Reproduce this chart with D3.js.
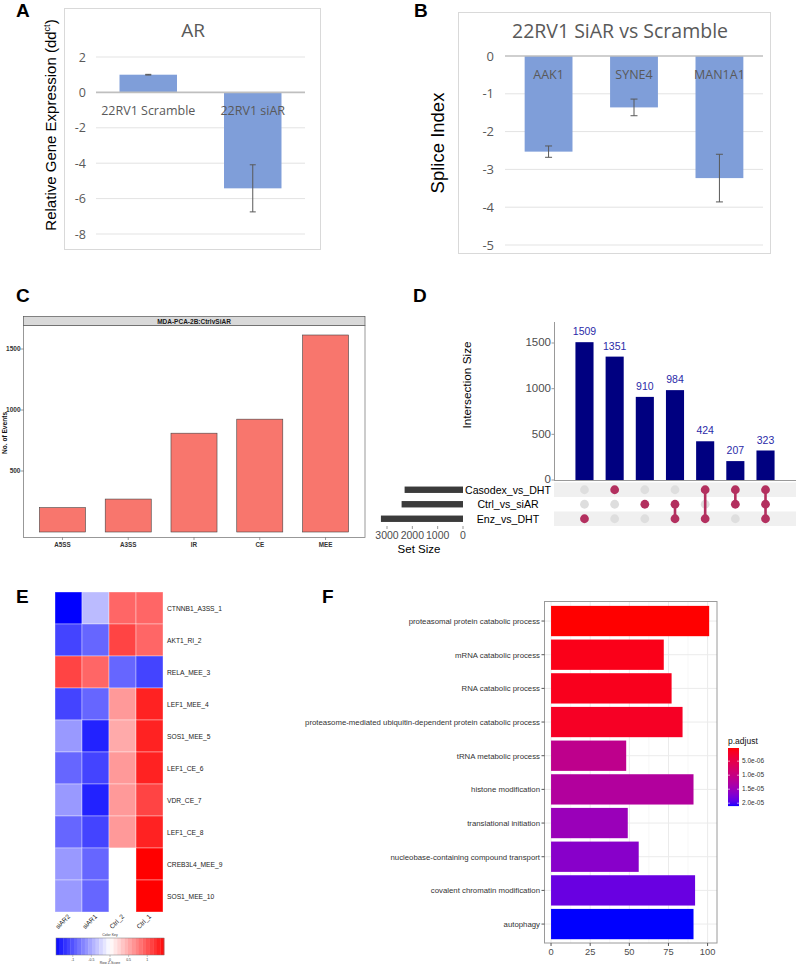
<!DOCTYPE html>
<html><head><meta charset="utf-8">
<script src="https://cdn.jsdelivr.net/npm/d3@7"></script>
<style>
body{margin:0;background:#fff}
svg{display:block}
text{font-family:"Liberation Sans",Arial,sans-serif}
.xl{font-family:"Open Sans","Liberation Sans",sans-serif}
</style>
</head><body>
<svg id="c" width="796" height="964"></svg>
<script>
// ---------- DATA ----------
const arCategories = ["22RV1 Scramble", "22RV1 siAR"];
const arValues = [1.0, -5.42];
const arErrors = [0.02, 1.33];
const arTicks = [2, 0, -2, -4, -6, -8];

const spliceGenes = ["AAK1", "SYNE4", "MAN1A1"];
const spliceValues = [-2.53, -1.36, -3.23];
const spliceErrors = [0.15, 0.22, 0.63];
const spliceTicks = [0, -1, -2, -3, -4, -5];

const eventTypes = ["A5SS", "A3SS", "IR", "CE", "MEE"];
const eventCounts = [200, 270, 810, 925, 1615];
const eventTicks = [500, 1000, 1500];

const setNames = ["Casodex_vs_DHT", "Ctrl_vs_siAR", "Enz_vs_DHT"];
const setSizes = [2305, 2424, 3240];
const setSizeTicks = [3000, 2000, 1000, 0];
const intersectionSizes = [1509, 1351, 910, 984, 424, 207, 323];
const intersectionMembers = [[2], [0], [1], [1, 2], [0, 2], [0, 1], [0, 1, 2]];
const intersectionTicks = [0, 500, 1000, 1500];

const hmRows = ["CTNNB1_A3SS_1", "AKT1_RI_2", "RELA_MEE_3", "LEF1_MEE_4", "SOS1_MEE_5",
  "LEF1_CE_6", "VDR_CE_7", "LEF1_CE_8", "CREB3L4_MEE_9", "SOS1_MEE_10"];
const hmCols = ["siAR2", "siAR1", "Ctrl_2", "Ctrl_1"];
const hmZ = [
  [-1.5, -0.45, 0.9, 0.9],
  [-1.06, -0.87, 1.1, 0.9],
  [1.1, 0.9, -0.87, -1.06],
  [-1.06, -0.87, 0.6, 1.3],
  [-0.6, -1.3, 0.45, 1.3],
  [-0.87, -1.06, 0.6, 1.3],
  [-0.6, -1.3, 0.6, 1.1],
  [-0.87, -1.1, 0.6, 1.25],
  [-0.6, -0.87, 0.0, 1.5],
  [-0.6, -0.87, 0.0, 1.5]
];
const zKeyTicks = [-1, -0.5, 0, 0.5, 1];

const goTerms = ["proteasomal protein catabolic process", "mRNA catabolic process", "RNA catabolic process",
  "proteasome-mediated ubiquitin-dependent protein catabolic process", "tRNA metabolic process",
  "histone modification", "translational initiation", "nucleobase-containing compound transport",
  "covalent chromatin modification", "autophagy"];
const goCounts = [101, 72, 77, 84, 48, 91, 49, 56, 92, 91];
const goPadj = [3e-7, 1.3e-6, 1.5e-6, 2.0e-6, 1.1e-5, 1.25e-5, 1.5e-5, 1.65e-5, 1.85e-5, 2.1e-5];
const goTicks = [0, 25, 50, 75, 100];
const padjTicks = [5e-6, 1e-5, 1.5e-5, 2e-5];
const padjTickLabels = ["5.0e-06", "1.0e-05", "1.5e-05", "2.0e-05"];

// ---------- DRAW ----------
const svg = d3.select("#c");
svg.append("rect").attr("width", 796).attr("height", 964).attr("fill", "#fff");

function panelLabel(t, x, y) {
  svg.append("text").attr("x", x).attr("y", y).text(t)
    .attr("font-size", 19).attr("font-weight", "bold").attr("fill", "#000");
}
panelLabel("A", 16, 17); panelLabel("B", 414, 17); panelLabel("C", 16, 302);
panelLabel("D", 413, 302); panelLabel("E", 16, 603); panelLabel("F", 322, 603);

const excelBlue = "#7f9ed9";

// ----- Panel A -----
(function () {
  const g = svg.append("g");
  g.append("rect").attr("x", 64.5).attr("y", 8.5).attr("width", 256).attr("height", 241)
    .attr("fill", "#fff").attr("stroke", "#d9d9d9");
  const y = d3.scaleLinear().domain([-8, 2]).range([234, 57]);
  const x = d3.scaleBand().domain(arCategories).range([96, 305]).paddingInner(0.45).paddingOuter(0.225);
  arTicks.filter(t => t !== 0).forEach(t => {
    g.append("line").attr("x1", 96).attr("x2", 305).attr("y1", y(t)).attr("y2", y(t))
      .attr("stroke", "#e3e3e3").attr("stroke-width", 1);
  });
  arTicks.forEach(t => {
    g.append("text").attr("class", "xl").attr("x", 86).attr("y", y(t) + 4.5)
      .attr("text-anchor", "end").attr("font-size", 12.5).attr("fill", "#595959").text(t);
  });
  g.selectAll(".bar").data(arValues).enter().append("rect")
    .attr("x", (d, i) => x(arCategories[i])).attr("width", x.bandwidth())
    .attr("y", d => y(Math.max(0, d))).attr("height", d => Math.abs(y(d) - y(0)))
    .attr("fill", excelBlue);
  g.append("line").attr("x1", 96).attr("x2", 305).attr("y1", y(0)).attr("y2", y(0))
    .attr("stroke", "#bfbfbf").attr("stroke-width", 1.6);
  arValues.forEach((v, i) => {
    const cx = x(arCategories[i]) + x.bandwidth() / 2;
    const e = arErrors[i];
    g.append("line").attr("x1", cx).attr("x2", cx).attr("y1", y(v + e)).attr("y2", y(v - e)).attr("stroke", "#595959");
    [v + e, v - e].forEach(vv => g.append("line").attr("x1", cx - 3).attr("x2", cx + 3)
      .attr("y1", y(vv)).attr("y2", y(vv)).attr("stroke", "#595959"));
    g.append("text").attr("class", "xl").attr("x", cx).attr("y", 115).attr("text-anchor", "middle")
      .attr("font-size", 12.5).attr("fill", "#595959").text(arCategories[i]);
  });
  g.append("text").attr("class", "xl").attr("x", 193).attr("y", 37).attr("text-anchor", "middle")
    .attr("font-size", 19).attr("fill", "#595959").text("AR");
  const yl = g.append("text").attr("transform", "translate(56,125) rotate(-90)")
    .attr("text-anchor", "middle").attr("font-size", 15).attr("fill", "#000");
  yl.append("tspan").text("Relative Gene Expression (dd");
  yl.append("tspan").attr("dy", -6).attr("font-size", 9).text("ct");
  yl.append("tspan").attr("dy", 6).text(")");
})();

// ----- Panel B -----
(function () {
  const g = svg.append("g");
  g.append("rect").attr("x", 458.5).attr("y", 12.5).attr("width", 312).attr("height", 241)
    .attr("fill", "#fff").attr("stroke", "#d9d9d9");
  const y = d3.scaleLinear().domain([-5, 0]).range([245, 56]);
  const x = d3.scaleBand().domain(spliceGenes).range([505, 763]).paddingInner(0.44).paddingOuter(0.23);
  spliceTicks.filter(t => t !== 0).forEach(t => {
    g.append("line").attr("x1", 505).attr("x2", 763).attr("y1", y(t)).attr("y2", y(t))
      .attr("stroke", "#e3e3e3");
  });
  spliceTicks.forEach(t => {
    g.append("text").attr("class", "xl").attr("x", 494).attr("y", y(t) + 4.5)
      .attr("text-anchor", "end").attr("font-size", 13).attr("fill", "#595959").text(t);
  });
  g.selectAll(".bar").data(spliceValues).enter().append("rect")
    .attr("x", (d, i) => x(spliceGenes[i])).attr("width", x.bandwidth())
    .attr("y", y(0)).attr("height", d => y(d) - y(0)).attr("fill", excelBlue);
  g.append("line").attr("x1", 505).attr("x2", 763).attr("y1", y(0)).attr("y2", y(0))
    .attr("stroke", "#bfbfbf").attr("stroke-width", 1.6);
  spliceValues.forEach((v, i) => {
    const cx = x(spliceGenes[i]) + x.bandwidth() / 2;
    const e = spliceErrors[i];
    g.append("line").attr("x1", cx).attr("x2", cx).attr("y1", y(v + e)).attr("y2", y(v - e)).attr("stroke", "#595959");
    [v + e, v - e].forEach(vv => g.append("line").attr("x1", cx - 3.5).attr("x2", cx + 3.5)
      .attr("y1", y(vv)).attr("y2", y(vv)).attr("stroke", "#595959"));
    g.append("text").attr("class", "xl").attr("x", cx).attr("y", 79).attr("text-anchor", "middle")
      .attr("font-size", 12.5).attr("fill", "#595959").text(spliceGenes[i]);
  });
  g.append("text").attr("class", "xl").attr("x", 620).attr("y", 38).attr("text-anchor", "middle")
    .attr("font-size", 19.5).attr("fill", "#595959").text("22RV1 SiAR vs Scramble");
  g.append("text").attr("transform", "translate(444,143) rotate(-90)").attr("text-anchor", "middle")
    .attr("font-size", 18.5).attr("fill", "#000").text("Splice Index");
})();

// ----- Panel C -----
(function () {
  const g = svg.append("g");
  const y = d3.scaleLinear().domain([0, 1697]).range([532, 325]);
  const x = d3.scaleBand().domain(eventTypes).range([23, 365]).paddingInner(0.3).paddingOuter(0.25);
  g.append("rect").attr("x", 23.5).attr("y", 325.5).attr("width", 341.5).attr("height", 212)
    .attr("fill", "#fff").attr("stroke", "#7f7f7f").attr("stroke-width", 0.8);
  g.append("rect").attr("x", 23.5).attr("y", 316.5).attr("width", 341.5).attr("height", 9)
    .attr("fill", "#d9d9d9").attr("stroke", "#555").attr("stroke-width", 0.7);
  g.append("text").attr("x", 194).attr("y", 323.6).attr("text-anchor", "middle")
    .attr("font-size", 6.5).attr("font-weight", "bold").attr("fill", "#1a1a1a").text("MDA-PCA-2B:CtrlvSiAR");
  g.selectAll(".bar").data(eventCounts).enter().append("rect")
    .attr("x", (d, i) => x(eventTypes[i])).attr("width", x.bandwidth())
    .attr("y", d => y(d)).attr("height", d => y(0) - y(d))
    .attr("fill", "#f8766d").attr("stroke", "#444").attr("stroke-width", 0.6);
  eventTicks.forEach(t => {
    g.append("line").attr("x1", 20.5).attr("x2", 23.5).attr("y1", y(t)).attr("y2", y(t)).attr("stroke", "#555").attr("stroke-width", 0.6);
    g.append("text").attr("x", 20.5).attr("y", y(t) + 2.4).attr("text-anchor", "end")
      .attr("font-size", 6.5).attr("font-weight", "bold").attr("fill", "#333").text(t);
  });
  eventTypes.forEach(e => {
    const cx = x(e) + x.bandwidth() / 2;
    g.append("line").attr("x1", cx).attr("x2", cx).attr("y1", 537.5).attr("y2", 540).attr("stroke", "#555").attr("stroke-width", 0.6);
    g.append("text").attr("x", cx).attr("y", 547).attr("text-anchor", "middle")
      .attr("font-size", 6.3).attr("font-weight", "bold").attr("fill", "#333").text(e);
  });
  g.append("text").attr("transform", "translate(6.5,433) rotate(-90)").attr("text-anchor", "middle")
    .attr("font-size", 6.6).attr("font-weight", "bold").attr("fill", "#111").text("No. of Events");
})();

// ----- Panel D -----
(function () {
  const g = svg.append("g");
  const navy = "#000080", dot = "#b3305f";
  const y = d3.scaleLinear().domain([0, 1730]).range([480, 322]);
  const x = d3.scaleBand().domain(d3.range(intersectionSizes.length)).range([569.4, 780.6])
    .paddingInner(0.4).paddingOuter(0.2);
  const row = d3.scaleBand().domain(setNames).range([482.5, 526]);
  setNames.forEach((s, i) => {
    if (i % 2 === 0) g.append("rect").attr("x", 554).attr("y", row(s)).attr("width", 242)
      .attr("height", row.bandwidth()).attr("fill", "#f0f0f0");
  });
  g.append("line").attr("x1", 554.5).attr("x2", 554.5).attr("y1", 322).attr("y2", 480).attr("stroke", "#999");
  g.append("line").attr("x1", 554).attr("x2", 796).attr("y1", 480.5).attr("y2", 480.5).attr("stroke", "#999");
  intersectionTicks.forEach(t => {
    g.append("line").attr("x1", 551.5).attr("x2", 554.5).attr("y1", y(t)).attr("y2", y(t)).attr("stroke", "#999");
    g.append("text").attr("x", 551).attr("y", y(t) + 3.4).attr("text-anchor", "end")
      .attr("font-size", 11.5).attr("fill", "#4d4d4d").text(t);
  });
  g.append("text").attr("transform", "translate(471,385) rotate(-90)").attr("text-anchor", "middle")
    .attr("font-size", 11.8).attr("fill", "#000").text("Intersection Size");
  intersectionSizes.forEach((v, i) => {
    g.append("rect").attr("x", x(i)).attr("width", x.bandwidth()).attr("y", y(v)).attr("height", y(0) - y(v))
      .attr("fill", navy);
    g.append("text").attr("x", x(i) + x.bandwidth() / 2).attr("y", y(v) - 7).attr("text-anchor", "middle")
      .attr("font-size", 10.5).attr("fill", "#2a2aa8").text(v);
  });
  intersectionMembers.forEach((m, i) => {
    const cx = x(i) + x.bandwidth() / 2;
    setNames.forEach((s, j) => {
      g.append("circle").attr("cx", cx).attr("cy", row(s) + row.bandwidth() / 2).attr("r", 4.4)
        .attr("fill", m.includes(j) ? dot : "#dedede");
    });
    if (m.length > 1) {
      const lo = d3.min(m), hi = d3.max(m);
      g.append("line").attr("x1", cx).attr("x2", cx)
        .attr("y1", row(setNames[lo]) + row.bandwidth() / 2).attr("y2", row(setNames[hi]) + row.bandwidth() / 2)
        .attr("stroke", dot).attr("stroke-width", 2.6);
    }
  });
  setNames.forEach(s => {
    g.append("text").attr("x", 508).attr("y", row(s) + row.bandwidth() / 2 + 3.8).attr("text-anchor", "middle")
      .attr("font-size", 10.6).attr("fill", "#000").text(s);
  });
  const sx = d3.scaleLinear().domain([0, 3000]).range([463, 387]);
  setSizes.forEach((v, j) => {
    g.append("rect").attr("x", sx(v)).attr("width", sx(0) - sx(v))
      .attr("y", row(setNames[j]) + row.bandwidth() / 2 - 3.2).attr("height", 6.4).attr("fill", "#3b3b3b");
  });
  setSizeTicks.forEach(t => {
    g.append("line").attr("x1", sx(t)).attr("x2", sx(t)).attr("y1", 526).attr("y2", 529).attr("stroke", "#999");
    g.append("text").attr("x", sx(t)).attr("y", 539).attr("text-anchor", "middle")
      .attr("font-size", 10.5).attr("fill", "#4d4d4d").text(t);
  });
  g.append("text").attr("x", 419).attr("y", 553).attr("text-anchor", "middle")
    .attr("font-size", 11.5).attr("fill", "#000").text("Set Size");
})();

// ----- Panel E -----
(function () {
  const g = svg.append("g");
  const x = d3.scaleBand().domain(hmCols).range([55, 163]);
  const y = d3.scaleBand().domain(hmRows).range([592, 912]);
  const nb = 31;
  const q = v => {
    const k = Math.round((v + 1.5) / 3 * (nb - 1));
    return -1.5 + k * 3 / (nb - 1);
  };
  const col = d3.scaleLinear().domain([-1.5, 0, 1.5]).range(["#0000ff", "#ffffff", "#ff0000"]).clamp(true);
  hmZ.forEach((r, i) => r.forEach((v, j) => {
    g.append("rect").attr("x", x(hmCols[j])).attr("y", y(hmRows[i]))
      .attr("width", x.bandwidth()).attr("height", y.bandwidth())
      .attr("fill", col(q(v))).attr("stroke", "#ffffff").attr("stroke-opacity", 0.45).attr("stroke-width", 0.8);
  }));
  hmRows.forEach(r => {
    g.append("text").attr("x", 167).attr("y", y(r) + y.bandwidth() / 2 + 2.5)
      .attr("font-size", 6.7).attr("fill", "#222").text(r);
  });
  hmCols.forEach(c => {
    const cx = x(c) + x.bandwidth() / 2 + 2;
    g.append("text").attr("transform", `translate(${cx},917) rotate(-45)`).attr("text-anchor", "end")
      .attr("font-size", 6.5).attr("fill", "#222").text(c);
  });
  const kx = d3.scaleLinear().domain([-1.45, 1.45]).range([56, 164]);
  const nk = 30;
  const steps = d3.range(nk).map(k => -1.45 + k * 2.9 / nk);
  steps.forEach(s => {
    g.append("rect").attr("x", kx(s)).attr("y", 938).attr("width", 2.9 / nk * 37.3 + 0.3).attr("height", 17)
      .attr("fill", col(s + 1.45 / nk));
  });
  g.append("rect").attr("x", 56).attr("y", 938).attr("width", 108).attr("height", 17)
    .attr("fill", "none").attr("stroke", "#777").attr("stroke-width", 0.5);
  g.append("text").attr("x", 110).attr("y", 936).attr("text-anchor", "middle").attr("font-size", 3.5).attr("fill", "#333").text("Color Key");
  zKeyTicks.forEach(t => {
    g.append("line").attr("x1", kx(t)).attr("x2", kx(t)).attr("y1", 955).attr("y2", 957).attr("stroke", "#777").attr("stroke-width", 0.4);
    g.append("text").attr("x", kx(t)).attr("y", 960.5).attr("text-anchor", "middle").attr("font-size", 3.5).attr("fill", "#333").text(t);
  });
  g.append("text").attr("x", 110).attr("y", 964).attr("text-anchor", "middle").attr("font-size", 3.5).attr("fill", "#333").text("Row Z-Score");
})();

// ----- Panel F -----
(function () {
  const g = svg.append("g");
  const x = d3.scaleLinear().domain([-4.5, 106]).range([544, 717]);
  const y = d3.scaleBand().domain(goTerms).range([604.2, 940.9]).paddingInner(0.1).paddingOuter(0.05);
  const pmin = 3e-7, pmax = 2.1e-5;
  const col = d3.scaleLinear().domain([pmin, pmax]).range(["#ff0000", "#0000ff"]).interpolate(d3.interpolateLab);
  g.append("rect").attr("x", 544).attr("y", 601).attr("width", 173).attr("height", 342).attr("fill", "#fff");
  [12.5, 37.5, 62.5, 87.5].forEach(t => g.append("line").attr("x1", x(t)).attr("x2", x(t)).attr("y1", 601).attr("y2", 943)
    .attr("stroke", "#f2f2f2").attr("stroke-width", 0.6));
  goTicks.forEach(t => g.append("line").attr("x1", x(t)).attr("x2", x(t)).attr("y1", 601).attr("y2", 943)
    .attr("stroke", "#ebebeb").attr("stroke-width", 1));
  goTerms.forEach(t => g.append("line").attr("x1", 544).attr("x2", 717).attr("y1", y(t) + y.bandwidth() / 2).attr("y2", y(t) + y.bandwidth() / 2)
    .attr("stroke", "#ebebeb").attr("stroke-width", 1));
  goCounts.forEach((v, i) => {
    g.append("rect").attr("x", x(0)).attr("width", x(v) - x(0)).attr("y", y(goTerms[i])).attr("height", y.bandwidth())
      .attr("fill", col(goPadj[i]));
  });
  g.append("rect").attr("x", 544.5).attr("y", 601.5).attr("width", 172.5).attr("height", 341.5)
    .attr("fill", "none").attr("stroke", "#9a9a9a").attr("stroke-width", 1);
  goTerms.forEach(t => {
    const cy = y(t) + y.bandwidth() / 2;
    g.append("line").attr("x1", 541.5).attr("x2", 544.5).attr("y1", cy).attr("y2", cy).attr("stroke", "#555");
    g.append("text").attr("x", 540).attr("y", cy + 3).attr("text-anchor", "end")
      .attr("font-size", 7.8).attr("fill", "#333").text(t);
  });
  goTicks.forEach(t => {
    g.append("line").attr("x1", x(t)).attr("x2", x(t)).attr("y1", 943).attr("y2", 946).attr("stroke", "#555");
    g.append("text").attr("x", x(t)).attr("y", 955).attr("text-anchor", "middle")
      .attr("font-size", 9.3).attr("fill", "#4d4d4d").text(t);
  });
  g.append("text").attr("x", 728).attr("y", 744).attr("font-size", 8.5).attr("fill", "#111").text("p.adjust");
  const ly = d3.scaleLinear().domain([pmin, pmax]).range([748, 806]);
  d3.range(0, 58).forEach(k => {
    const p = ly.invert(748 + k + 0.5);
    g.append("rect").attr("x", 728).attr("y", 748 + k).attr("width", 11).attr("height", 1.1).attr("fill", col(p));
  });
  padjTicks.forEach((p, i) => {
    const yy = ly(p);
    g.append("line").attr("x1", 728).attr("x2", 730).attr("y1", yy).attr("y2", yy).attr("stroke", "#fff").attr("stroke-width", 0.6);
    g.append("line").attr("x1", 737).attr("x2", 739).attr("y1", yy).attr("y2", yy).attr("stroke", "#fff").attr("stroke-width", 0.6);
    g.append("text").attr("x", 742).attr("y", yy + 2.3).attr("font-size", 6.5).attr("fill", "#333").text(padjTickLabels[i]);
  });
})();
</script>
</body></html>
